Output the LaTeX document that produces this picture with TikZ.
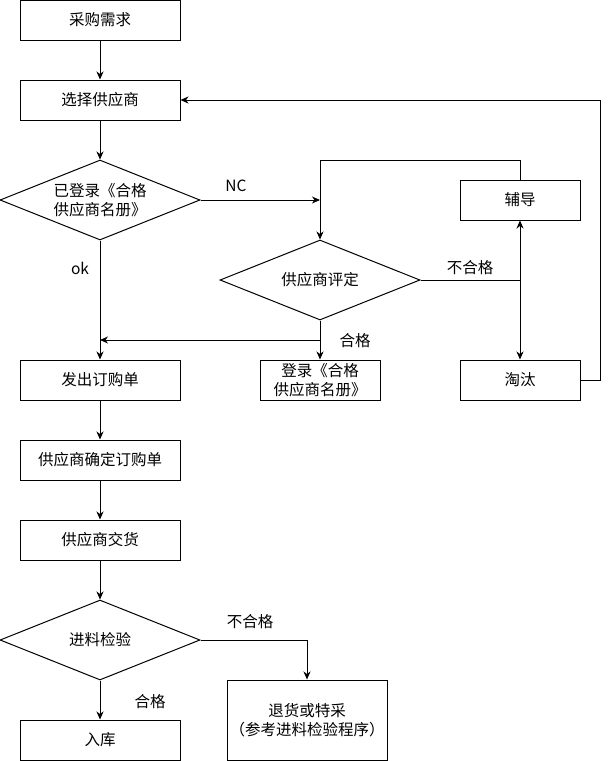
\documentclass[tikz,border=0pt]{standalone}
\usepackage{fontspec}
\setmainfont{Noto Sans CJK SC}
\usetikzlibrary{shapes.geometric,arrows.meta}
\begin{document}
\begin{tikzpicture}[x=1pt,y=-1pt,
  font=\fontsize{15.5}{19}\selectfont,
  every node/.style={inner sep=0pt},
  box/.style={draw,line width=1pt,minimum width=160pt,minimum height=40pt,align=center},
  dia/.style={draw,diamond,line width=1pt,minimum width=200pt,minimum height=80pt,aspect=2.5,align=center},
  arr/.style={line width=1pt,-{Stealth[length=8pt,width=7pt,inset=2.5pt]}},
  ln/.style={line width=1pt},
  lbl/.style={font=\fontsize{15.5}{19}\selectfont}]
\useasboundingbox (0,0) rectangle (609,761);
\node[box] (a) at (100,20) {采购需求};
\node[box] (b) at (100,100) {选择供应商};
\node[dia] (d1) at (100,200) {已登录《合格\\供应商名册》};
\node[box] (po) at (100,380) {发出订购单};
\node[box] (cf) at (100,460) {供应商确定订购单};
\node[box] (dl) at (100,540) {供应商交货};
\node[dia] (d3) at (100,640) {进料检验};
\node[box] (in) at (100,740) {入库};
\node[box,minimum height=80pt] (rt) at (307,720) {退货或特采\\（参考进料检验程序）};
\node[dia] (d2) at (320,280) {供应商评定};
\node[box,minimum width=120pt] (rg) at (320,380) {登录《合格\\供应商名册》};
\node[box,minimum width=120pt] (fd) at (520,200) {辅导};
\node[box,minimum width=120pt] (tt) at (520,380) {淘汰};
\coordinate (j1) at (320,340);
\coordinate (j2) at (320,160);
\coordinate (j3) at (600,380);
\draw[arr] (a) -- (b);
\draw[arr] (b) -- (d1);
\draw[arr] (d1.east) -- (d1.east -| d2.north);
\draw[arr] (fd.north) |- (j2) -- (d2.north);
\draw[arr] (d1.south) -- (po.north);
\draw[arr] (d2.south) -- (rg.north);
\draw[arr] (j1) -- (j1 -| po.north);
\draw[arr] (d2.east) -| (fd.south);
\draw[arr] (d2.east) -| (tt.north);
\draw[arr] (tt.east) -- (j3) |- (b.east);
\draw[arr] (po) -- (cf);
\draw[arr] (cf) -- (dl);
\draw[arr] (dl) -- (d3);
\draw[arr] (d3.south) -- (in.north);
\draw[arr] (d3.east) -| (rt.north);
\node[lbl] (l1) at (236,186) {NC};
\node[lbl] (l2) at (80,268) {ok};
\node[lbl] (l3) at (470,268) {不合格};
\node[lbl] (l4) at (355,341) {合格};
\node[lbl] (l5) at (250,622) {不合格};
\node[lbl] (l6) at (150,702) {合格};
\end{tikzpicture}
\end{document}
